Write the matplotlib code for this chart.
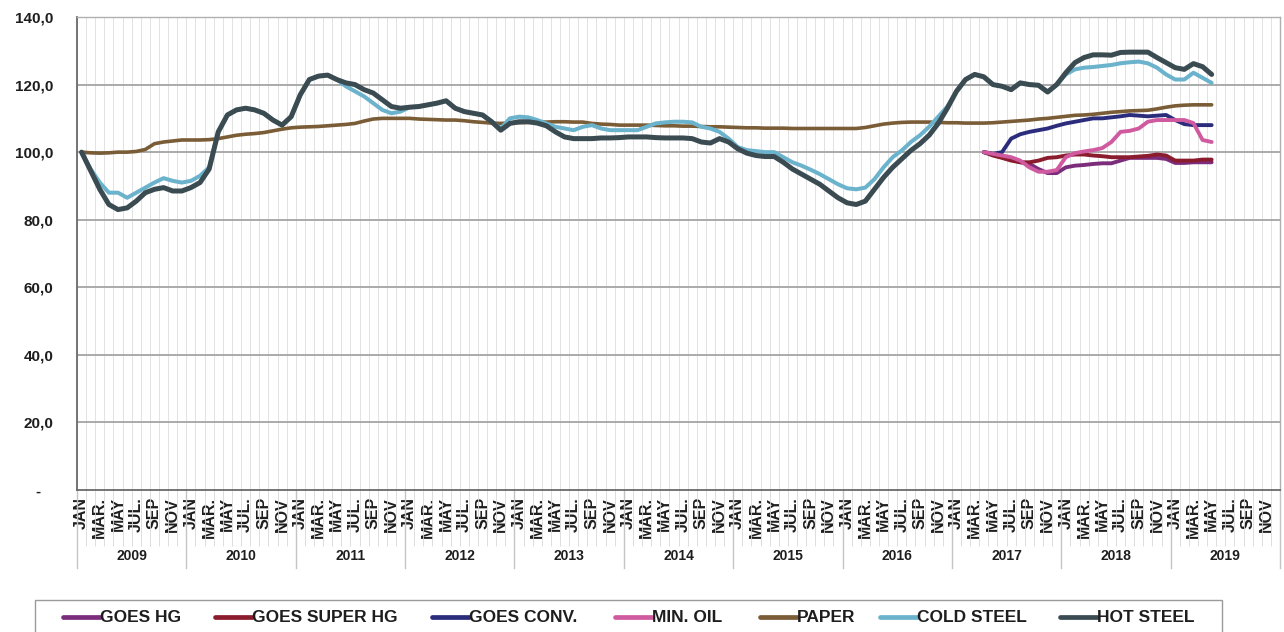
import numpy as np
import matplotlib
matplotlib.use("Agg")
import matplotlib.pyplot as plt
from matplotlib.patches import Rectangle

# ---------------- data ----------------
years = [str(y) for y in range(2009, 2020)]
month_names = ["JAN", "MAR.", "MAY", "JUL.", "SEP", "NOV"]   # labels every 2nd month
n_months = 132  # JAN 2009 .. DEC 2019

hot_steel = [100, 94.5, 89, 84.5, 83, 83.5, 85.5, 88, 89, 89.5,
             88.5, 88.5, 89.5, 91, 95, 106, 111, 112.5, 113, 112.5,
             111.5, 109.5, 108, 110.5, 117, 121.5, 122.5, 122.8, 121.5, 120.5,
             120, 118.5, 117.5, 115.5, 113.5, 113, 113.3, 113.5, 114, 114.5,
             115.2, 113, 112, 111.5, 111, 109, 106.5, 108.5, 109, 109,
             108.6, 107.8, 106, 104.5, 104, 104, 104, 104.2, 104.2, 104.3,
             104.5, 104.5, 104.5, 104.3, 104.2, 104.2, 104.2, 104, 103, 102.7,
             104, 103, 101, 99.7, 99, 98.7, 98.7, 97, 95, 93.5,
             92, 90.5, 88.5, 86.5, 85, 84.5, 85.5, 89, 92.5, 95.5,
             98, 100.5, 102.5, 105, 108.5, 113, 118, 121.5, 123, 122.3,
             120, 119.5, 118.5, 120.5, 120, 119.8, 117.8, 120, 123.5, 126.5,
             128, 128.8, 128.8, 128.7, 129.5, 129.6, 129.6, 129.6, 128, 126.5,
             125, 124.5, 126.2, 125.3, 123]

cold_steel = [100, 95, 91, 88, 88, 86.5, 88, 89.5, 91, 92.3,
              91.5, 91, 91.5, 93, 95.5, 106, 111, 112.5, 113, 112.5,
              111.5, 109.5, 108, 110.5, 117, 121.5, 122.5, 122.8, 121.5, 119.5,
              118, 116.5, 114.5, 112.5, 111.5, 112, 113.3, 113.5, 114, 114.5,
              115.2, 113, 112, 111.5, 111, 109, 107, 110, 110.5, 110.3,
              109.5, 108.5, 107.5, 107, 106.5, 107.5, 108, 107, 106.5, 106.5,
              106.5, 106.5, 107.5, 108.5, 108.8, 109, 109, 108.8, 107.5, 107,
              106, 104, 101.5, 100.6, 100.3, 100, 100, 98.5, 97, 96,
              94.8, 93.5, 92, 90.5, 89.3, 89, 89.5, 92, 95.5, 98.5,
              100.5, 103, 105, 107.5, 110.5, 113.5, 118, 121.5, 123, 122.3,
              120, 119.5, 118.5, 120.5, 120, 119.8, 117.8, 120, 123, 124.5,
              125, 125.2, 125.5, 125.8, 126.3, 126.6, 126.8, 126.3, 125, 123,
              121.5, 121.5, 123.5, 122, 120.5]

paper = [100, 99.8, 99.7, 99.8, 100, 100, 100.2, 100.8, 102.5, 103,
         103.3, 103.6, 103.6, 103.6, 103.7, 104, 104.5, 105, 105.3, 105.5,
         105.8, 106.3, 106.8, 107.2, 107.4, 107.5, 107.6, 107.8, 108, 108.2,
         108.5, 109.2, 109.8, 110, 110, 110, 110, 109.8, 109.7, 109.6,
         109.5, 109.5, 109.3, 109, 108.8, 108.6, 108.5, 108.6, 108.7, 108.8,
         108.9, 108.9, 109, 109, 108.9, 108.9, 108.5, 108.3, 108.2, 108,
         108, 108, 108, 107.9, 107.8, 107.8, 107.7, 107.7, 107.6, 107.5,
         107.5, 107.4, 107.3, 107.2, 107.2, 107.1, 107.1, 107.1, 107, 107,
         107, 107, 107, 107, 107, 107, 107.3, 107.8, 108.3, 108.6,
         108.8, 108.9, 108.9, 108.9, 108.8, 108.7, 108.7, 108.6, 108.6, 108.6,
         108.7, 108.9, 109.1, 109.3, 109.5, 109.8, 110, 110.3, 110.6, 110.9,
         111, 111.2, 111.5, 111.8, 112, 112.2, 112.3, 112.4, 112.8, 113.3,
         113.7, 113.9, 114, 114, 114]

goes_start = 99  # APR 2017
goes_hg = [100, 99.5, 98.5, 97.8, 97, 96.5, 95, 93.8, 93.8, 95.5,
           96, 96.2, 96.5, 96.7, 96.7, 97.5, 98.3, 98.3, 98.3, 98.3,
           98, 96.8, 96.8, 97, 97, 97]
goes_super_hg = [100, 99, 98.3, 97.5, 97, 97, 97.5, 98.3, 98.5, 99,
                 99.3, 99.3, 99, 98.8, 98.5, 98.5, 98.5, 98.7, 98.9, 99.3,
                 99, 97.5, 97.5, 97.5, 97.8, 97.8]
goes_conv = [100, 99.5, 100, 104, 105.3, 106, 106.5, 107, 107.8, 108.5,
             109, 109.5, 110, 110, 110.3, 110.6, 111, 110.8, 110.6, 110.8,
             111, 109.5, 108.3, 108, 108, 108]
min_oil = [100, 99.5, 99, 98.5, 97.5, 95.5, 94.2, 94.2, 94.7, 98.5,
           99.7, 100.2, 100.6, 101.2, 103, 106, 106.3, 107, 109, 109.5,
           109.5, 109.5, 109.5, 108.6, 103.6, 103]

series_names = ["GOES HG", "GOES SUPER HG", "GOES CONV.", "MIN. OIL", "PAPER", "COLD STEEL", "HOT STEEL"]
colors = ["#7b2d7b", "#8b1c2e", "#2b2d7c", "#d05aa0", "#7a5c36", "#6bb3cc", "#3a4b52"]

yticks = [0, 20, 40, 60, 80, 100, 120, 140]
ytick_labels = ["-   ", "20,0", "40,0", "60,0", "80,0", "100,0", "120,0", "140,0"]

# ---------------- figure ----------------
W, H = 1284, 632
fig = plt.figure(figsize=(W / 100, H / 100), dpi=100)
ax = fig.add_axes([77 / W, 1 - 490 / H, (1280 - 77) / W, (490 - 17) / H])

font = "Liberation Sans"
txtc = "#1e1e1e"

short_x = np.arange(goes_start, goes_start + len(goes_hg))
data = [(short_x, goes_hg), (short_x, goes_super_hg), (short_x, goes_conv), (short_x, min_oil),
        (np.arange(len(paper)), paper), (np.arange(len(cold_steel)), cold_steel),
        (np.arange(len(hot_steel)), hot_steel)]
widths = [2.8, 2.8, 2.8, 2.8, 2.6, 2.9, 3.6]
for (xx, yy), name, c, lw in zip(data, series_names, colors, widths):
    ax.plot(xx, yy, color=c, lw=lw, solid_capstyle="round", solid_joinstyle="round", label=name, zorder=3)

ax.set_xlim(-0.5, n_months - 0.5)
ax.set_ylim(0, 140)

# grid
ax.set_yticks(yticks)
ax.set_yticklabels(ytick_labels, fontfamily=font, fontsize=11, fontweight="bold")
ax.tick_params(axis="y", length=0, pad=17, colors=txtc)
for v in yticks[1:]:
    ax.axhline(v, color="#a4a4a4", lw=1.3, zorder=1)
for b in np.arange(n_months + 1) - 0.5:
    ax.axvline(b, color="#e2e2e2", lw=0.7, zorder=0)

# x ticks: month labels every 2 months
major = np.arange(0, n_months, 2)
ax.set_xticks(major)
ax.set_xticklabels([month_names[(m % 12) // 2] for m in major], rotation=90,
                   fontfamily=["Liberation Sans Narrow", font], fontsize=11.5, fontweight="bold",
                   va="top", ha="center")
ax.tick_params(axis="x", length=0, pad=5, colors=txtc)
ax.set_xticks(np.arange(n_months + 1) - 0.5, minor=True)
ax.tick_params(axis="x", which="minor", length=40, width=0.6, color="#d8d8d8")

# year labels and separators
trans = ax.get_xaxis_transform()
for k, yr in enumerate(years):
    ax.text(12 * k + 5.5, -(556 - 490) / 473, yr, transform=trans, ha="center", va="center",
            fontfamily=font, fontsize=10, fontweight="bold", color=txtc)
for k in range(len(years) + 1):
    ax.plot([12 * k - 0.5, 12 * k - 0.5], [0, -(568 - 490) / 473], transform=trans,
            color="#c4c4c4", lw=1.0, clip_on=False)

for s in ["left", "bottom"]:
    ax.spines[s].set_color("#6a6a6a")
    ax.spines[s].set_linewidth(1.3)
for s in ["right", "top"]:
    ax.spines[s].set_color("#b0b0b0")
    ax.spines[s].set_linewidth(1.0)

# legend drawn manually (box runs off the bottom edge like the reference)
fig.patches.append(Rectangle((35 / W, 1 - 660 / H), (1222 - 35) / W, (660 - 600) / H,
                             transform=fig.transFigure, fill=False, edgecolor="#9a9a9a", lw=1.0))
handle_x = [63, 215, 432, 615, 760, 880, 1060]
ly = 1 - 617 / H
for hx, name, c in zip(handle_x, series_names, colors):
    fig.add_artist(plt.Line2D([hx / W, (hx + 37) / W], [ly, ly], transform=fig.transFigure,
                              color=c, lw=3.4, solid_capstyle="round"))
    fig.text((hx + 37) / W, ly, name, ha="left", va="center", fontfamily=font, fontsize=12.5,
             fontweight="bold", color=txtc)

fig.savefig("out.png", dpi=100)
